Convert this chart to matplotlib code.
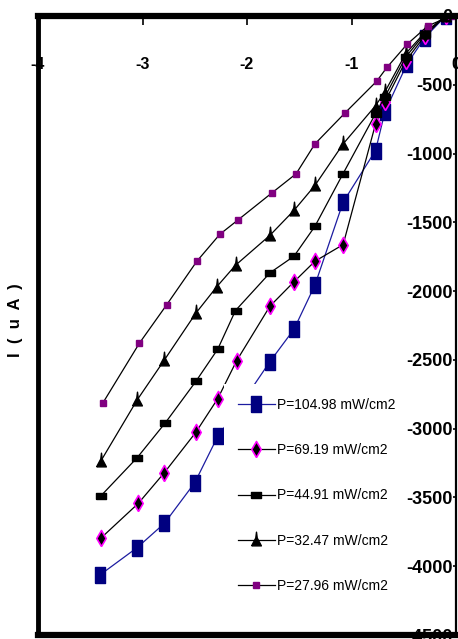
import matplotlib
matplotlib.use("Agg")
import matplotlib.pyplot as plt

plt.rcParams['font.family'] = ['Liberation Sans', 'DejaVu Sans']
plt.rcParams['axes.unicode_minus'] = False

# I-V data for each illumination level (V in volts, I in uA)
labels = ["P=104.98 mW/cm2", "P=69.19 mW/cm2", "P=44.91 mW/cm2",
          "P=32.47 mW/cm2", "P=27.96 mW/cm2"]

volt_104 = [-3.41, -3.05, -2.79, -2.50, -2.28, -2.08, -1.78, -1.55, -1.35, -1.08, -0.77, -0.68, -0.47, -0.30, -0.10]
cur_104 = [-4065, -3864, -3688, -3393, -3056, -2848, -2512, -2277, -1956, -1353, -978, -696, -350, -159, 0]

volt_69 = [-3.40, -3.04, -2.79, -2.49, -2.28, -2.10, -1.78, -1.55, -1.35, -1.08, -0.77, -0.68, -0.48, -0.30, -0.10]
cur_69 = [-3797, -3543, -3319, -3027, -2782, -2507, -2109, -1932, -1783, -1662, -785, -623, -326, -145, 0]

volt_44 = [-3.40, -3.05, -2.78, -2.49, -2.28, -2.11, -1.78, -1.55, -1.35, -1.08, -0.77, -0.68, -0.48, -0.30, -0.10]
cur_44 = [-3490, -3210, -2956, -2657, -2422, -2141, -1867, -1746, -1529, -1145, -710, -587, -297, -130, 0]

volt_32 = [-3.40, -3.05, -2.79, -2.49, -2.29, -2.11, -1.78, -1.55, -1.35, -1.08, -0.77, -0.68, -0.48, -0.30, -0.10]
cur_32 = [-3237, -2790, -2500, -2161, -1969, -1812, -1594, -1413, -1232, -930, -652, -551, -272, -121, 0]

volt_27 = [-3.38, -3.03, -2.77, -2.48, -2.26, -2.09, -1.76, -1.53, -1.35, -1.06, -0.76, -0.66, -0.47, -0.27, -0.05]
cur_27 = [-2814, -2379, -2101, -1783, -1587, -1485, -1285, -1147, -930, -703, -475, -373, -207, -72, 0]

xticks = [-4, -3, -2, -1, 0]
yticks = [0, -500, -1000, -1500, -2000, -2500, -3000, -3500, -4000, -4500]

# tall marker shapes
tall_square = [(-1, -1.6), (1, -1.6), (1, 1.6), (-1, 1.6), (-1, -1.6)]
tall_diamond = [(0, -1.7), (1, 0), (0, 1.7), (-1, 0), (0, -1.7)]
flat_bar = [(-1, -0.6), (1, -0.6), (1, 0.6), (-1, 0.6), (-1, -0.6)]
tall_tri = [(-1, -1.1), (1, -1.1), (0.15, 0.5), (0, 1.7), (-0.15, 0.5), (-1, -1.1)]

fig = plt.figure(figsize=(4.58, 6.39), dpi=100)
ax = fig.add_axes([38 / 458, 1 - 635 / 639, 418 / 458, 619 / 639])

ax.plot(volt_104, cur_104, color='#1c1ca0', lw=0.9, marker=tall_square, ms=11,
        mfc='#000080', mec='#000080', label=labels[0])
ax.plot(volt_69, cur_69, color='black', lw=0.9, marker=tall_diamond, ms=11.5,
        mfc='black', mec='#ff00ff', mew=1.2, label=labels[1])
ax.plot(volt_44, cur_44, color='black', lw=0.9, marker=flat_bar, ms=6.5,
        mfc='black', mec='black', label=labels[2])
ax.plot(volt_32, cur_32, color='black', lw=0.9, marker=tall_tri, ms=12,
        mfc='black', mec='black', label=labels[3])
ax.plot(volt_27, cur_27, color='black', lw=0.9, marker='s', ms=4,
        mfc='#800080', mec='#800080', label=labels[4])

ax.set_xlim(-4, 0)
ax.set_ylim(-4500, 0)

# axes cross at the origin (top right corner)
ax.spines['left'].set_position(('data', 0))
ax.spines['bottom'].set_position(('data', 0))
ax.spines['left'].set_linewidth(1.6)
ax.spines['bottom'].set_linewidth(4.5)
ax.spines['top'].set_visible(False)
ax.spines['right'].set_visible(False)
ax.spines['bottom'].set_zorder(7)
ax.yaxis.set_zorder(6)

# outer frame on the far sides
ax.axvline(-4, color='black', lw=3.5, clip_on=False, zorder=7)
ax.axhline(-4500, color='black', lw=4.5, clip_on=False, zorder=7)

ax.set_xticks(xticks)
ax.set_xticklabels([str(v) for v in xticks])
ax.set_yticks(yticks)
ax.set_yticklabels([str(v) for v in yticks])
ax.tick_params(axis='x', direction='out', length=6.5, width=1.2, pad=23,
               labelsize=11.5)
ax.tick_params(axis='y', direction='out', length=2, width=1.2, pad=0.5,
               labelsize=13)
for t in ax.get_xticklabels() + ax.get_yticklabels():
    t.set_fontweight('bold')

fig.text(16 / 458, 1 - 320 / 639, "I  (  u  A  )", rotation=90, ha='center',
         va='center', fontsize=12, fontweight='bold')

leg = ax.legend(loc='upper left', bbox_to_anchor=(224 / 458, 1 - 384 / 639),
                bbox_transform=fig.transFigure, frameon=True, fancybox=False,
                edgecolor='none', facecolor='white', framealpha=1,
                fontsize=10, handlelength=2.65, handletextpad=0.15,
                labelspacing=2.25, borderpad=1.0, borderaxespad=0)
leg.set_zorder(5)

fig.savefig("out.png", dpi=100)
